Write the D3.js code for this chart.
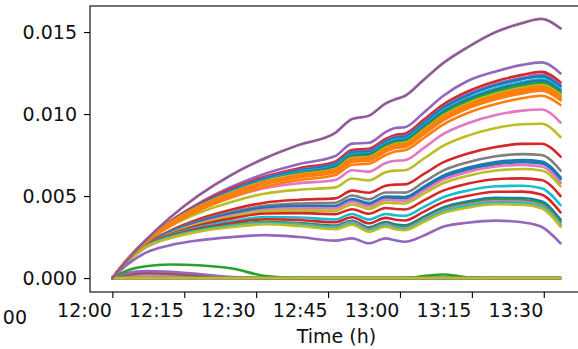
<!DOCTYPE html>
<html>
<head>
<meta charset="utf-8">
<script src="https://cdn.jsdelivr.net/npm/d3@7"></script>
<style>
  html, body { margin: 0; padding: 0; background: #fff; }
  svg { display: block; font-family: "DejaVu Sans", sans-serif; }
</style>
</head>
<body>
<svg id="chart" width="578" height="349"></svg>
<script>
// Sample times (clock time of each reading)
const times = ["12:00:00","12:03:00","12:07:00","12:12:00","12:18:00","12:25:00","12:32:00",
  "12:39:00","12:46:30","12:50:00","12:53:30","12:57:00","12:59:00","13:01:00","13:05:00",
  "13:09:00","13:14:00","13:20:00","13:25:30","13:29:30","13:33:30"];

const xTickLabels = ["12:00","12:15","12:30","12:45","13:00","13:15","13:30"];
const yTickValues = [0.000, 0.005, 0.010, 0.015];

// Highest trace, drawn twice (two runs with identical readings)
const leadSeries = [0, 0.00106, 0.00232, 0.00368, 0.00504, 0.00632, 0.00733, 0.00813, 0.00885, 0.00970,
  0.00990, 0.01065, 0.01090, 0.01110, 0.01210, 0.01310, 0.01405, 0.01500, 0.01555, 0.01580, 0.01522];
const leadColors = ["#9467bd", "#8c564b"];

// Upper bundle of traces
const upperSeries = [
  [0,0.00106,0.00225,0.00343,0.00455,0.00558,0.00638,0.00696,0.00744,0.00820,0.00825,0.00890,0.00915,0.00920,0.01010,0.01110,0.01200,0.01260,0.01300,0.01315,0.01248],
  [0,0.00109,0.00229,0.00343,0.00449,0.00546,0.00620,0.00670,0.00710,0.00781,0.00788,0.00848,0.00873,0.00880,0.00966,0.01058,0.01136,0.01200,0.01239,0.01257,0.01193],
  [0,0.00108,0.00226,0.00338,0.00443,0.00538,0.00611,0.00660,0.00700,0.00770,0.00777,0.00837,0.00861,0.00868,0.00952,0.01043,0.01120,0.01183,0.01222,0.01239,0.01176],
  [0,0.00107,0.00225,0.00335,0.00440,0.00534,0.00607,0.00656,0.00695,0.00765,0.00771,0.00831,0.00855,0.00862,0.00945,0.01036,0.01112,0.01175,0.01213,0.01230,0.01168],
  [0,0.00105,0.00221,0.00331,0.00434,0.00527,0.00598,0.00646,0.00685,0.00754,0.00760,0.00819,0.00843,0.00849,0.00932,0.01021,0.01096,0.01158,0.01195,0.01212,0.01151],
  [0,0.00105,0.00220,0.00328,0.00430,0.00523,0.00594,0.00641,0.00680,0.00748,0.00755,0.00813,0.00836,0.00843,0.00925,0.01013,0.01088,0.01149,0.01187,0.01204,0.01142],
  [0,0.00103,0.00217,0.00324,0.00425,0.00517,0.00587,0.00634,0.00672,0.00739,0.00746,0.00803,0.00827,0.00833,0.00914,0.01001,0.01075,0.01136,0.01173,0.01189,0.01129],
  [0,0.00110,0.00228,0.00336,0.00435,0.00523,0.00591,0.00633,0.00665,0.00732,0.00738,0.00795,0.00818,0.00825,0.00904,0.00991,0.01064,0.01124,0.01160,0.01177,0.01117],
  [0,0.00109,0.00227,0.00333,0.00432,0.00520,0.00586,0.00628,0.00660,0.00726,0.00733,0.00789,0.00812,0.00818,0.00898,0.00983,0.01056,0.01115,0.01152,0.01168,0.01109],
  [0,0.00108,0.00225,0.00331,0.00428,0.00516,0.00582,0.00623,0.00655,0.00721,0.00727,0.00783,0.00806,0.00812,0.00891,0.00976,0.01048,0.01107,0.01143,0.01159,0.01100],
  [0,0.00107,0.00223,0.00328,0.00425,0.00512,0.00577,0.00618,0.00650,0.00715,0.00722,0.00777,0.00800,0.00806,0.00884,0.00969,0.01040,0.01099,0.01134,0.01151,0.01092],
  [0,0.00106,0.00222,0.00326,0.00422,0.00508,0.00573,0.00614,0.00645,0.00710,0.00716,0.00771,0.00793,0.00800,0.00877,0.00961,0.01032,0.01090,0.01126,0.01142,0.01084],
  [0,0.00104,0.00216,0.00317,0.00411,0.00494,0.00558,0.00597,0.00628,0.00691,0.00697,0.00750,0.00772,0.00779,0.00854,0.00936,0.01005,0.01061,0.01096,0.01112,0.01055]
];
const upperColors = ["#9467bd","#d62728","#9467bd","#1f77b4","#17becf","#1f77b4","#2ca02c",
  "#bcbd22","#ff7f0e","#ff7f0e","#ff7f0e","#ff7f0e","#ff7f0e"];

// Middle and lower traces
const lowerSeries = [
  [0,0.00112,0.00230,0.00328,0.00416,0.00493,0.00549,0.00578,0.00598,0.00657,0.00649,0.00701,0.00715,0.00718,0.00794,0.00877,0.00942,0.00994,0.01021,0.01028,0.00948],
  [0,0.00110,0.00224,0.00316,0.00397,0.00466,0.00516,0.00539,0.00553,0.00607,0.00596,0.00645,0.00655,0.00657,0.00729,0.00806,0.00867,0.00915,0.00938,0.00941,0.00859],
  [0,0.00102,0.00207,0.00288,0.00359,0.00418,0.00461,0.00478,0.00486,0.00533,0.00520,0.00563,0.00570,0.00571,0.00635,0.00705,0.00758,0.00799,0.00818,0.00819,0.00740],
  [0,0.00102,0.00205,0.00283,0.00348,0.00403,0.00442,0.00455,0.00459,0.00503,0.00480,0.00522,0.00522,0.00521,0.00586,0.00655,0.00705,0.00743,0.00756,0.00750,0.00655],
  [0,0.00102,0.00205,0.00281,0.00343,0.00395,0.00431,0.00440,0.00440,0.00482,0.00457,0.00497,0.00496,0.00494,0.00557,0.00624,0.00672,0.00708,0.00719,0.00711,0.00614],
  [0,0.00100,0.00201,0.00276,0.00337,0.00388,0.00423,0.00432,0.00432,0.00473,0.00448,0.00488,0.00487,0.00485,0.00547,0.00613,0.00660,0.00695,0.00706,0.00699,0.00603],
  [0,0.00099,0.00198,0.00271,0.00332,0.00381,0.00416,0.00425,0.00425,0.00465,0.00438,0.00477,0.00474,0.00472,0.00533,0.00599,0.00646,0.00680,0.00690,0.00680,0.00580],
  [0,0.00100,0.00199,0.00271,0.00328,0.00375,0.00408,0.00413,0.00410,0.00449,0.00422,0.00460,0.00457,0.00455,0.00515,0.00578,0.00623,0.00656,0.00665,0.00656,0.00560],
  [0,0.00099,0.00198,0.00266,0.00321,0.00364,0.00394,0.00396,0.00390,0.00420,0.00392,0.00427,0.00421,0.00418,0.00474,0.00533,0.00575,0.00603,0.00608,0.00598,0.00500],
  [0,0.00099,0.00196,0.00260,0.00309,0.00347,0.00372,0.00369,0.00358,0.00391,0.00357,0.00391,0.00383,0.00379,0.00434,0.00493,0.00533,0.00560,0.00563,0.00548,0.00444],
  [0,0.00098,0.00193,0.00255,0.00301,0.00336,0.00359,0.00354,0.00340,0.00371,0.00334,0.00367,0.00356,0.00351,0.00405,0.00463,0.00500,0.00526,0.00527,0.00509,0.00400],
  [0,0.00096,0.00188,0.00247,0.00290,0.00322,0.00342,0.00335,0.00320,0.00349,0.00309,0.00341,0.00327,0.00322,0.00375,0.00431,0.00466,0.00489,0.00488,0.00468,0.00356],
  [0,0.00098,0.00192,0.00250,0.00292,0.00323,0.00342,0.00333,0.00315,0.00344,0.00302,0.00333,0.00319,0.00313,0.00366,0.00421,0.00456,0.00478,0.00476,0.00456,0.00341],
  [0,0.00097,0.00189,0.00246,0.00287,0.00318,0.00336,0.00327,0.00310,0.00338,0.00295,0.00326,0.00310,0.00304,0.00357,0.00412,0.00446,0.00468,0.00465,0.00443,0.00326],
  [0,0.00098,0.00192,0.00249,0.00289,0.00318,0.00335,0.00324,0.00305,0.00332,0.00290,0.00320,0.00305,0.00299,0.00351,0.00406,0.00439,0.00461,0.00458,0.00436,0.00320],
  [0,0.00096,0.00188,0.00243,0.00283,0.00311,0.00328,0.00317,0.00298,0.00325,0.00283,0.00313,0.00298,0.00292,0.00343,0.00396,0.00429,0.00450,0.00447,0.00426,0.00313],
  [0,0.00080,0.00155,0.00200,0.00230,0.00250,0.00262,0.00250,0.00228,0.00242,0.00212,0.00242,0.00230,0.00221,0.00260,0.00313,0.00337,0.00350,0.00340,0.00313,0.00212]
];
const lowerColors = ["#e377c2","#bcbd22","#d62728","#7f7f7f","#1f77b4","#1f77b4","#e377c2",
  "#bcbd22","#d62728","#17becf","#d62728","#1f77b4","#2ca02c","#e377c2","#17becf","#bcbd22","#9467bd"];

// Traces that stay close to zero
const baseSeries = [
  [0,0,0,0,0,0,0,0,0,0,0,0,0,0,0,0,0,0,0,0,0],
  [-0.00002,-0.00002,-0.00002,-0.00002,-0.00002,-0.00002,-0.00002,-0.00002,-0.00002,-0.00002,-0.00002,-0.00002,-0.00002,-0.00002,-0.00002,-0.00002,-0.00002,-0.00002,-0.00002,-0.00002,-0.00002],
  [0,0.00012,0.00016,0.00012,0.00006,0,0,0,0,0,0,0,0,0,0,0,0,0,0,0,0],
  [0,0.00020,0.00030,0.00026,0.00014,0.00003,0,0,0,0,0,0,0,0,0,0,0,0,0,0,0],
  [0,0.00030,0.00042,0.00038,0.00025,0.00006,0,0,0,0,0,0,0,0,0,0,0,0,0,0,0],
  [0,0.00045,0.00072,0.00083,0.00078,0.00058,0.00012,0,0,0,0,0,0,0,0,0,0,0,0,0,0],
  [0,0,0,0,0,0,0,0,0,0,0,0,0,0,0.00012,0.00022,0.00005,0,0,0,0],
  [0,0,0,0,0,0,0,0,0,0,0,0,0,0,0,0,0,0,0,0,0],
  [0,0,0,0,0,0,0,0,0,0,0,0,0,0,0,0,0,0,0,0,0]
];
const baseColors = ["#1f77b4","#e377c2","#e377c2","#8c564b","#9467bd","#2ca02c","#2ca02c","#7f7f7f","#bcbd22"];

// ---- layout ----
const plot = { left: 90, right: 583, top: 6, bottom: 292 };
const parse = d3.timeParse("%H:%M:%S");
const dates = times.map(parse);

const x = d3.scaleTime()
  .domain([parse("11:55:20"), parse("13:38:11")])
  .range([plot.left, plot.right]);
const y = d3.scaleLinear()
  .domain([-0.00085, 0.01659])
  .range([plot.bottom, plot.top]);

const svg = d3.select("#chart");

svg.append("defs").append("clipPath").attr("id", "plot-clip")
  .append("rect")
  .attr("x", plot.left).attr("y", plot.top)
  .attr("width", plot.right - plot.left).attr("height", plot.bottom - plot.top);

const line = d3.line()
  .x((d, i) => x(dates[i]))
  .y(d => y(d))
  .curve(d3.curveMonotoneX);

const lines = svg.append("g").attr("clip-path", "url(#plot-clip)")
  .attr("fill", "none").attr("stroke-linejoin", "round").attr("stroke-linecap", "round");

function drawGroup(seriesList, colors, width) {
  lines.append("g").selectAll("path")
    .data(seriesList)
    .join("path")
    .attr("d", d => line(d))
    .attr("stroke", (d, i) => colors[i])
    .attr("stroke-width", width);
}

drawGroup(baseSeries, baseColors, 2.6);
drawGroup(lowerSeries, lowerColors, 2.6);
drawGroup(upperSeries, upperColors, 2.6);
lines.append("path").attr("d", line(leadSeries))
  .attr("stroke", leadColors[0]).attr("stroke-width", 2.8);
lines.append("path").attr("d", line(leadSeries))
  .attr("stroke", leadColors[1]).attr("stroke-width", 1.2).attr("stroke-opacity", 0.7);

// ---- axes ----
const fontSize = 19;

const xAxis = d3.axisBottom(x)
  .tickValues(xTickLabels.map(s => parse(s + ":00")))
  .tickFormat(d3.timeFormat("%H:%M"))
  .tickSize(6).tickPadding(6);

const gx = svg.append("g").attr("transform", `translate(0,${plot.bottom})`).call(xAxis);
gx.select(".domain").remove();
gx.selectAll(".tick line").attr("stroke", "#000").attr("stroke-width", 1.1);
gx.selectAll(".tick text")
  .attr("fill", "#111").attr("font-size", fontSize)
  .attr("font-family", "DejaVu Sans, sans-serif")
  .attr("text-anchor", "end").attr("dx", "-1");

const yAxis = d3.axisLeft(y)
  .tickValues(yTickValues)
  .tickFormat(d3.format(".3f"))
  .tickSize(6).tickPadding(7);

const gy = svg.append("g").attr("transform", `translate(${plot.left},0)`).call(yAxis);
gy.select(".domain").remove();
gy.selectAll(".tick line").attr("stroke", "#000").attr("stroke-width", 1.1);
gy.selectAll(".tick text")
  .attr("fill", "#111").attr("font-size", fontSize)
  .attr("font-family", "DejaVu Sans, sans-serif");

// frame
svg.append("rect")
  .attr("x", plot.left).attr("y", plot.top)
  .attr("width", plot.right - plot.left).attr("height", plot.bottom - plot.top)
  .attr("fill", "none").attr("stroke", "#000").attr("stroke-width", 1.1);

// axis title
svg.append("text")
  .attr("x", (plot.left + plot.right) / 2).attr("y", 343)
  .attr("text-anchor", "middle").attr("font-size", fontSize).attr("fill", "#111")
  .text("Time (h)");

// clipped label fragment at the lower-left edge
svg.append("text")
  .attr("x", 27).attr("y", 324)
  .attr("text-anchor", "end").attr("font-size", fontSize).attr("fill", "#111")
  .text("00");
</script>
</body>
</html>
